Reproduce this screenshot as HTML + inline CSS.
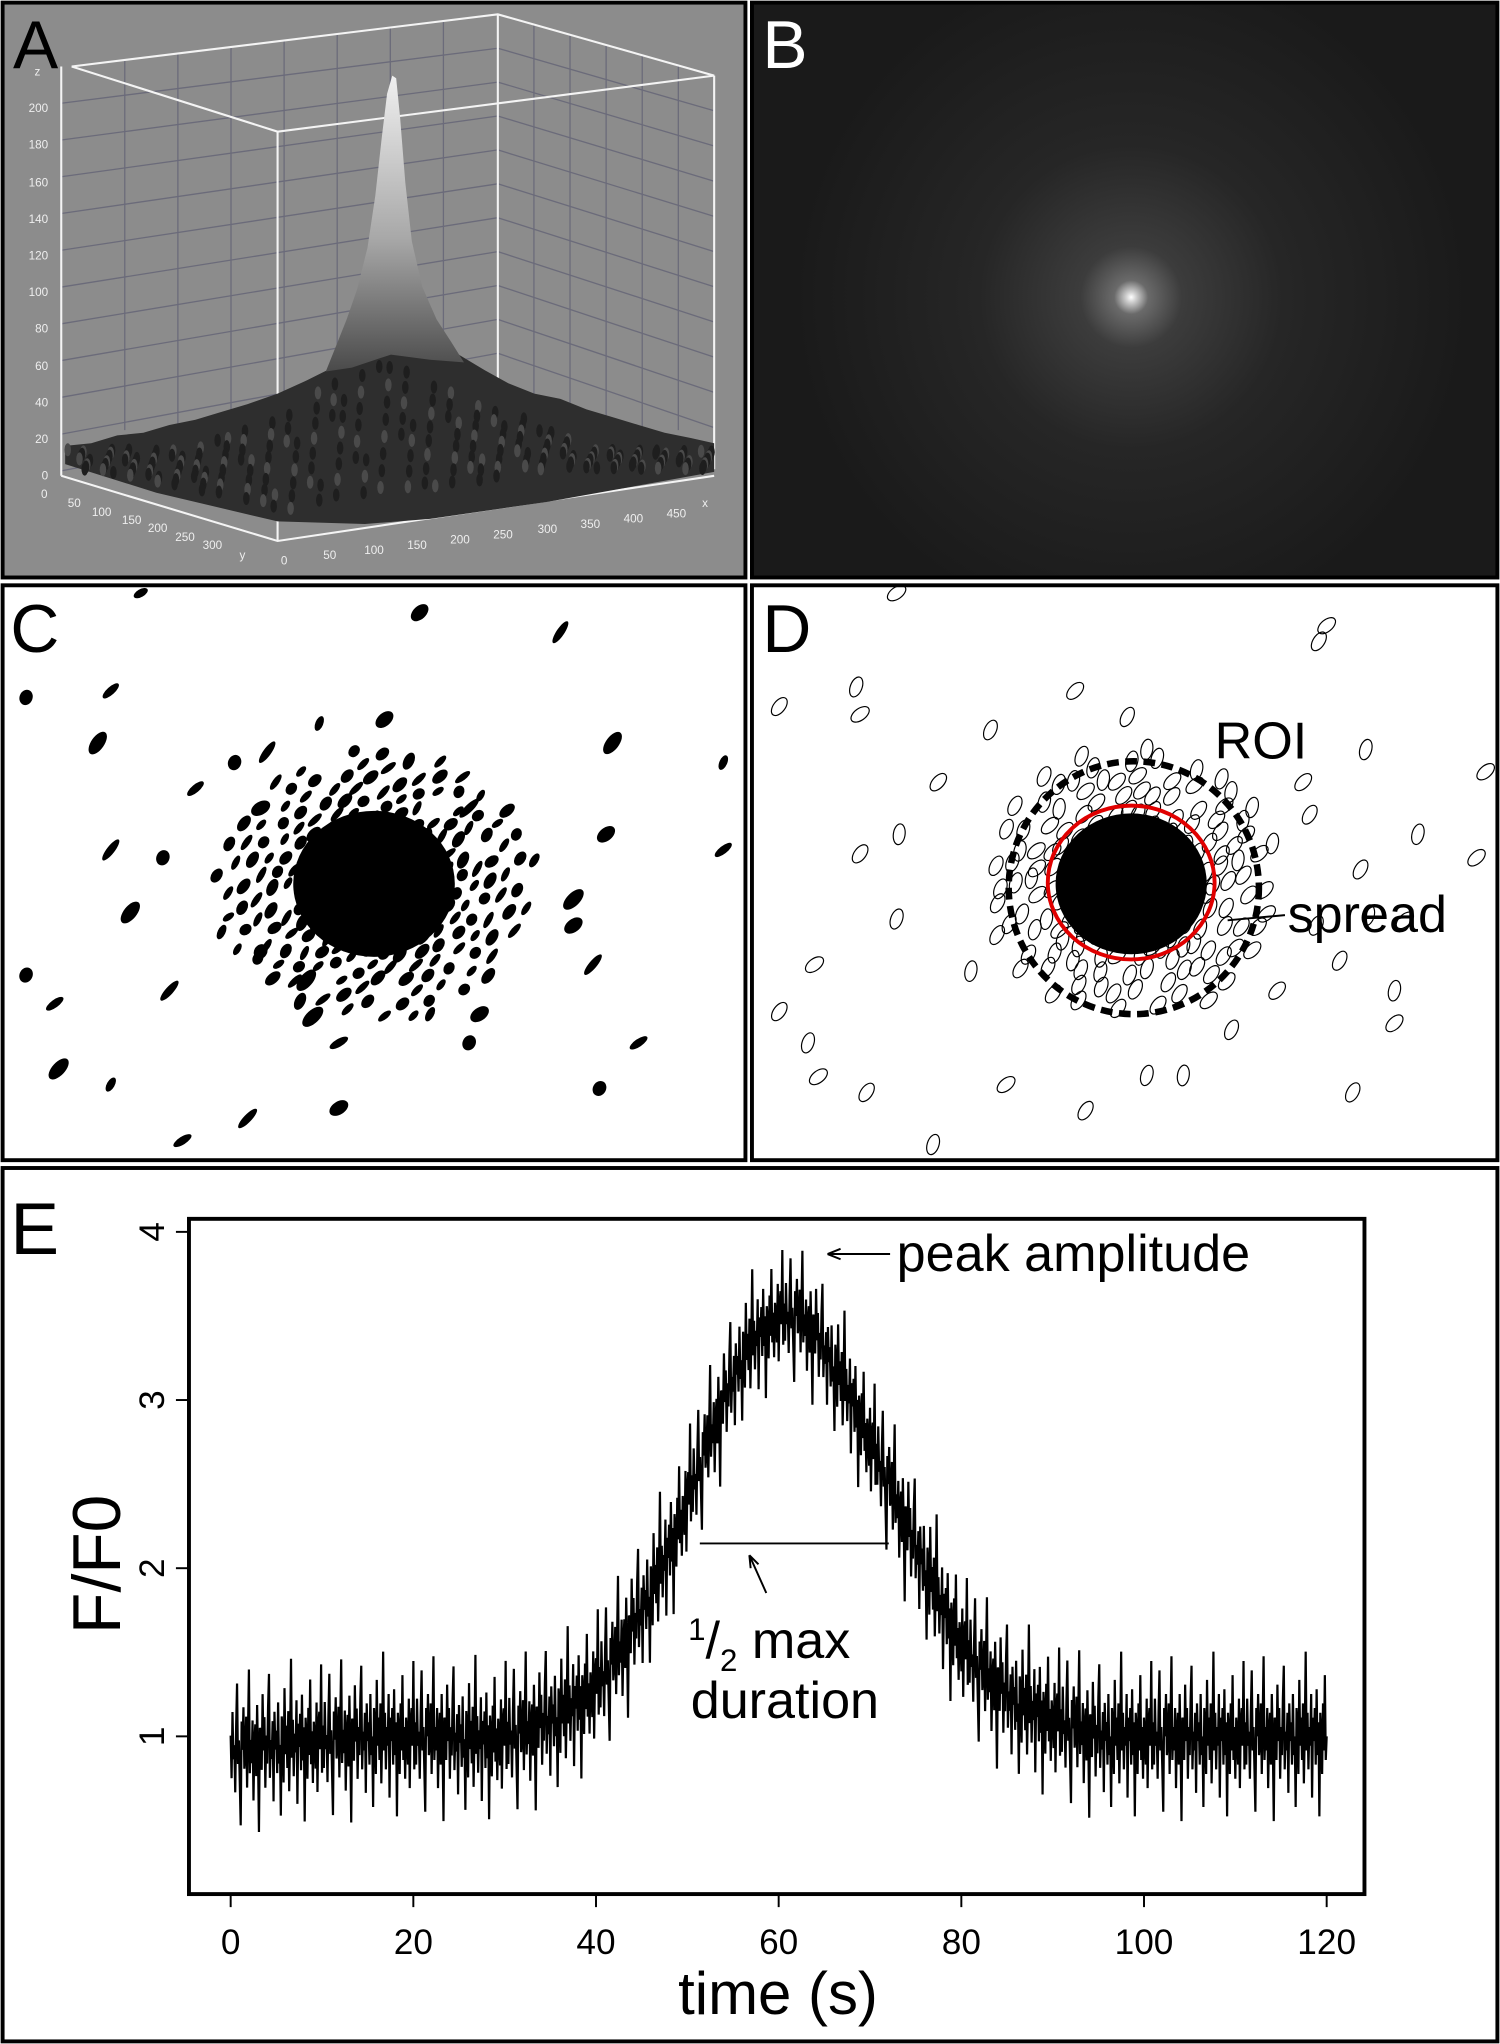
<!DOCTYPE html>
<html><head><meta charset="utf-8"><style>
html,body{margin:0;padding:0;background:#fff}
svg{display:block}
text{font-family:"Liberation Sans",Arial,sans-serif}
</style></head><body>
<svg id="fig" width="1500" height="2044" viewBox="0 0 1151 1568" preserveAspectRatio="none" xmlns="http://www.w3.org/2000/svg">
<defs>
<radialGradient id="glow" cx="868" cy="228" r="260" gradientUnits="userSpaceOnUse">
<stop offset="0" stop-color="#ffffff"/><stop offset="0.015" stop-color="#cfcfcf"/><stop offset="0.05" stop-color="#6a6a6a"/><stop offset="0.15" stop-color="#3c3c3c"/><stop offset="0.45" stop-color="#262626"/><stop offset="1" stop-color="#1a1a1a"/>
</radialGradient>
<linearGradient id="peakg" x1="0" y1="0" x2="0" y2="1"><stop offset="0" stop-color="#f0f0f0"/><stop offset="0.55" stop-color="#a8a8a8"/><stop offset="1" stop-color="#4a4a4a"/></linearGradient>
</defs>

<!-- Panel A -->
<g>
<rect x="2" y="2" width="570" height="441" fill="#8c8c8c" stroke="#000" stroke-width="3"/>
<g id="agrid" stroke="#6b6b7a" stroke-width="1"></g>
<g stroke="#f4f4f4" stroke-width="1.6" fill="none">
<polyline points="55,51 382,11 548,58"/>
<polyline points="55,51 213,101 548,58"/>
<line x1="47" y1="51" x2="47" y2="365"/>
<line x1="213" y1="101" x2="213" y2="415"/>
<line x1="382" y1="11" x2="382" y2="300"/>
<line x1="548" y1="58" x2="548" y2="360"/>
<polyline points="47,365 213,415 548,365"/>
</g>
<polygon fill="#2e2e2e" points="50,342 70,340 90,334 110,332 130,326 150,322 170,316 190,310 213,302 235,292 255,282 270,272 300,265 330,268 352,272 372,284 390,294 410,302 430,306 450,314 470,320 490,326 510,332 530,336 548,340 548,362 420,385 330,398 280,402 213,400 120,378 50,356"/>
<polygon fill="url(#peakg)" points="250,285 258,265 266,245 274,222 282,190 288,150 293,105 297,72 301,58 304,60 307,90 311,140 316,185 324,220 335,245 346,262 356,278 330,276 300,272 270,282"/>
<g id="abumps" fill="#222"></g>
<text x="10" y="52" font-size="52" fill="#000">A</text>
<g font-size="9" fill="#eee" text-anchor="end">
<text x="31" y="58">z</text><text x="37" y="86">200</text><text x="37" y="114">180</text><text x="37" y="143">160</text><text x="37" y="171">140</text><text x="37" y="199">120</text><text x="37" y="227">100</text><text x="37" y="255">80</text><text x="37" y="284">60</text><text x="37" y="312">40</text><text x="37" y="340">20</text><text x="37" y="368">0</text>
</g>
<g font-size="9" fill="#eee" text-anchor="middle">
<text x="34" y="382">0</text><text x="57" y="389">50</text><text x="78" y="396">100</text><text x="101" y="402">150</text><text x="121" y="408">200</text><text x="142" y="415">250</text><text x="163" y="421">300</text><text x="186" y="429">y</text>
<text x="218" y="433">0</text><text x="253" y="429">50</text><text x="287" y="425">100</text><text x="320" y="421">150</text><text x="353" y="417">200</text><text x="386" y="413">250</text><text x="420" y="409">300</text><text x="453" y="405">350</text><text x="486" y="401">400</text><text x="519" y="397">450</text><text x="541" y="389">x</text>
</g>
</g>

<!-- Panel B -->
<g>
<rect x="577" y="2" width="572" height="441" fill="url(#glow)" stroke="#000" stroke-width="3"/>
<text x="585" y="52" font-size="52" fill="#fff">B</text>
</g>

<!-- Panel C -->
<g>
<rect x="2" y="449" width="570" height="441" fill="#fff" stroke="#000" stroke-width="3"/>
<g id="cblobs" fill="#000"></g>
<ellipse cx="287" cy="678" rx="62" ry="56" fill="#000"/>
<text x="8" y="500" font-size="52" fill="#000">C</text>
</g>

<!-- Panel D -->
<g>
<rect x="577" y="449" width="572" height="441" fill="#fff" stroke="#000" stroke-width="3"/>
<g id="dell" fill="none" stroke="#000" stroke-width="0.9"></g>
<ellipse cx="868" cy="678" rx="58" ry="54" fill="#000"/>
<ellipse cx="870" cy="681" rx="96" ry="97" fill="none" stroke="#000" stroke-width="5" stroke-dasharray="9,5"/>
<ellipse cx="868" cy="677" rx="64" ry="59" fill="none" stroke="#e00000" stroke-width="3"/>
<text x="932" y="582" font-size="40" fill="#000">ROI</text>
<text x="988" y="715" font-size="40" fill="#000">spread</text>
<line x1="986" y1="702" x2="942" y2="706" stroke="#000" stroke-width="1.5"/>
<text x="585" y="500" font-size="52" fill="#000">D</text>
</g>

<!-- Panel E -->
<g>
<rect x="2" y="896" width="1147" height="670" fill="#fff" stroke="#000" stroke-width="3"/>
<text x="8" y="962" font-size="56" fill="#000">E</text>
<g id="echart"></g>
</g>
</svg>
<script>
// ----- Panel E data -----
const times = [0,2,4,6,8,10,12,14,16,18,20,22,24,26,28,30,32,34,36,38,40,42,44,46,48,50,52,54,56,58,60,62,64,66,68,70,72,74,76,78,80,82,84,86,88,90,92,94,96,98,100,102,104,106,108,110,112,114,116,118,120];
const meanFF0 = [0.92,0.92,0.95,0.95,0.97,0.98,0.98,1.0,1.0,1.0,1.0,1.0,1.0,0.98,0.98,1.0,1.02,1.08,1.12,1.2,1.3,1.45,1.65,1.85,2.1,2.4,2.7,3.0,3.25,3.4,3.5,3.5,3.4,3.2,3.0,2.75,2.5,2.25,2.0,1.75,1.55,1.4,1.3,1.2,1.15,1.1,1.05,1.02,1.0,1.0,1.0,1.0,1.0,1.0,1.0,1.0,1.0,1.0,1.0,1.0,1.0];
const noisePattern = [0.3,-0.6,0.8,-0.2,0.1,-0.9,0.5,1.4,-0.3,0.2,-0.7,-1.6,0.6,0.0,0.9,-0.4,-0.1,0.7,-0.8,0.4,1.7,-0.5,0.2,-0.3,0.6,-1.1,0.1,0.5,-0.6,0.9,-0.2,-1.8,0.4,0.3,-0.5,1.1,-0.1,0.6,-0.9,0.2,-0.4,0.8,1.5,-0.7,0.1,-0.3,0.5,-1.2,0.7,-0.1,0.3,-0.6,0.9,-0.4,0.0,-1.5,0.6,0.2,-0.8,1.2,-0.2,0.4,-0.5,0.7,-1.0,0.1,1.8,-0.3,0.5,-0.7,0.2,-0.2,0.9,-1.3,0.4,-0.1,0.6,-0.6,1.0,-0.4,0.3,-1.7,0.5,0.1,-0.8,0.7,-0.3,1.3,-0.5,0.2,-0.9,0.4,0.0,-0.6,0.8,-1.1,0.3,0.6,-0.2,1.6,-0.7];
const noiseAmp = 0.28;
const xTicks = [0,20,40,60,80,100,120];
const yTicks = [1,2,3,4];
const NS='http://www.w3.org/2000/svg';
const X0=145,X1=1047,Y0=935,Y1=1453;
function xs(t){return 177+(t/120)*(1018-177);}
function ys(v){return 1332-(v-1)*129;}
const eg=document.getElementById('echart');
function mk(tag,attrs,parent){const e=document.createElementNS(NS,tag);for(const k in attrs)e.setAttribute(k,attrs[k]);(parent||eg).appendChild(e);return e;}
const frame=mk('rect',{x:X0,y:Y0,width:X1-X0,height:Y1-Y0,fill:'none',stroke:'#000','stroke-width':3});


xTicks.forEach(t=>{
  const l=mk('line',{x1:xs(t),x2:xs(t),y1:Y1,y2:Y1+10,stroke:'#000','stroke-width':1.5});
  
  
  const tx=mk('text',{x:xs(t),y:Y1+46,'font-size':27,'text-anchor':'middle'});tx.textContent=t;
  
  
});
yTicks.forEach(v=>{
  const l=mk('line',{x1:X0,x2:X0-10,y1:ys(v),y2:ys(v),stroke:'#000','stroke-width':1.5});
  
  
  const tx=mk('text',{x:0,y:0,'font-size':27,'text-anchor':'middle',transform:`translate(126,${ys(v)}) rotate(-90)`});tx.textContent=v;
  
  
});
const yt=mk('text',{x:0,y:0,'font-size':52,'text-anchor':'middle',transform:'translate(92,1200) rotate(-90)'});yt.textContent='F/F0';


const xt=mk('text',{x:597,y:1545,'font-size':46,'text-anchor':'middle'});xt.textContent='time (s)';


// trace
let pts=[];let k=0;
for(let i=0;i<times.length-1;i++){
  for(let s=0;s<20;s++){
    const f=s/20;const t=times[i]+f*(times[i+1]-times[i]);
    const m=meanFF0[i]+f*(meanFF0[i+1]-meanFF0[i]);
    const v=m+noisePattern[k%noisePattern.length]*noiseAmp*(1-0.05*(m-1));k++;
    pts.push(xs(t).toFixed(1)+','+ys(v).toFixed(1));
  }
}
pts.push(xs(120)+','+ys(meanFF0[60]));
const tr=mk('polyline',{points:pts.join(' '),fill:'none',stroke:'#000','stroke-width':1.7,'stroke-linejoin':'bevel'});


// annotations
const hm=mk('line',{x1:537,x2:682,y1:1184,y2:1184,stroke:'#000','stroke-width':1.5});


const a1=mk('path',{d:'M683,962 L635,962 M635,962 l10,-4 M635,962 l10,4',stroke:'#000','stroke-width':1.5,fill:'none'});


const pk=mk('text',{x:688,y:975,'font-size':40});pk.textContent='peak amplitude';


const a2=mk('path',{d:'M588,1222 L575,1193 M575,1193 l1,10 M575,1193 l7,7',stroke:'#000','stroke-width':1.5,fill:'none'});


const hl=mk('text',{x:528,y:1272,'font-size':40});
hl.innerHTML='<tspan font-size="24" dy="-14">1</tspan><tspan dy="14">/</tspan><tspan font-size="24" dy="10">2</tspan><tspan dy="-10"> max</tspan>';


const du=mk('text',{x:530,y:1318,'font-size':40});du.textContent='duration';



// ----- Panel A grid -----
const ag=document.getElementById('agrid');
for(let j=1;j<=11;j++){
  const yL=51+j*28.2, yM=11+j*26;
  mk('line',{x1:47,y1:yL,x2:382,y2:yM},ag);
  mk('line',{x1:382,y1:yM,x2:548,y2:58+j*27},ag);
}
for(let j=1;j<8;j++){const x=55+j*40.75;const y=51-j*5;mk('line',{x1:x,y1:y,x2:x,y2:330},ag);}
for(let j=1;j<6;j++){const x=382+j*27.7;const y=11+j*7.8;mk('line',{x1:x,y1:y,x2:x,y2:330},ag);}
const ab=document.getElementById('abumps');
for(let i=0;i<260;i++){const x=52+((i*53)%495);const yTop=345-Math.max(0,70-Math.abs(x-300)/2.2);const yBot=360+Math.max(0,35-Math.abs(x-240)/5);const y=yTop+((i*29)%100)/100*(yBot-yTop);mk('ellipse',{cx:x,cy:y,rx:2.5,ry:5,fill:(i%3?'#1e1e1e':'#4a4a4a')},ab);}

// ----- Panel C blobs -----
const cpos=[[108,455],[322,470],[430,485],[20,535],[85,530],[75,570],[245,555],[295,552],[205,577],[180,585],[150,605],[470,570],[555,585],[465,640],[85,652],[125,658],[555,652],[100,700],[170,715],[440,710],[455,740],[20,748],[42,770],[235,752],[330,778],[368,778],[130,760],[360,800],[490,800],[45,820],[85,832],[260,850],[190,858],[460,835],[140,875],[440,690],[410,660],[200,620],[360,620],[200,730],[260,800],[240,780],[315,700]];
const cb=document.getElementById('cblobs');
cpos.forEach((p,i)=>{mk('ellipse',{cx:p[0],cy:p[1],rx:6+(i%3)*2,ry:3+(i%2)*2,transform:`rotate(${-30-(i*13)%40} ${p[0]} ${p[1]})`},cb);});
for(let i=0;i<170;i++){const a=i*2.39996;const r=50+((i*73)%61);const cx=287+r*Math.cos(a)*1.1,cy=678+r*Math.sin(a)*0.95;mk('ellipse',{cx:cx,cy:cy,rx:5+(i%3),ry:2.5+(i%2)*1.5,transform:`rotate(${-35-(i*7)%30} ${cx} ${cy})`},cb);}

// ----- Panel D ellipses -----
const dpos=[[688,455],[598,542],[657,527],[660,548],[660,655],[688,705],[625,740],[598,776],[620,800],[628,826],[665,838],[716,878],[772,832],[833,852],[880,825],[1018,480],[1012,492],[1048,575],[1140,592],[1005,625],[1088,640],[1133,658],[1044,667],[1050,702],[1078,706],[1028,737],[1070,760],[1070,785],[1038,838],[745,745],[825,530],[865,550],[880,575],[1000,600],[1010,710],[950,660],[980,760],[945,790],[908,825],[720,600],[760,560],[690,640]];
const dg=document.getElementById('dell');
dpos.forEach((p,i)=>{mk('ellipse',{cx:p[0],cy:p[1],rx:8,ry:4.5,transform:`rotate(${-35-(i*17)%50} ${p[0]} ${p[1]})`},dg);});
for(let i=0;i<150;i++){const a=i*2.39996;const r=40+((i*73)%66);const cx=868+r*Math.cos(a)*1.08,cy=678+r*Math.sin(a);mk('ellipse',{cx:cx,cy:cy,rx:8,ry:4.5,transform:`rotate(${-40-(i*11)%40} ${cx} ${cy})`},dg);}
</script>
</body></html>
